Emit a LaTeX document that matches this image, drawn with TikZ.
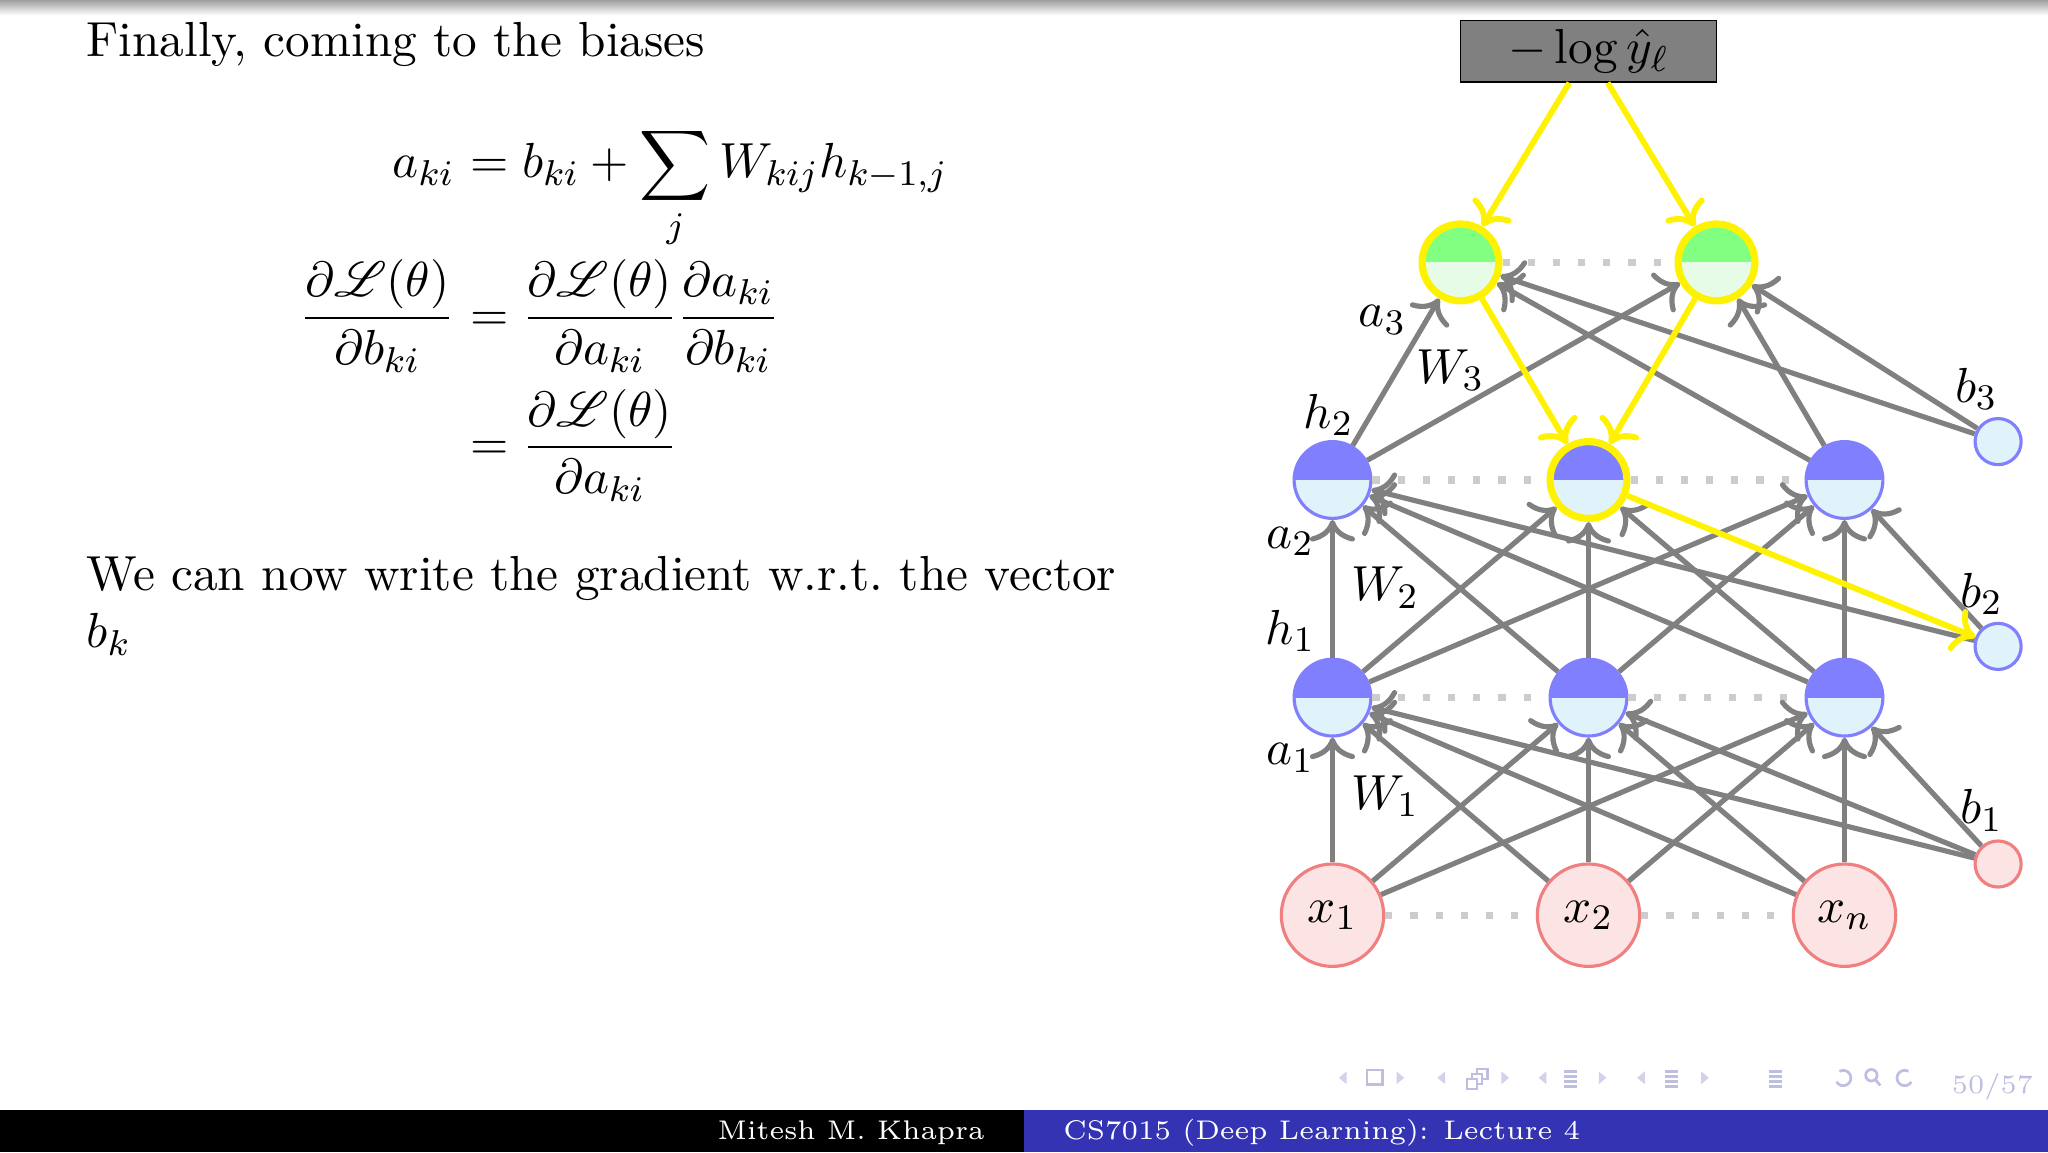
\documentclass[tikz,border=0pt,11pt]{standalone}
\usepackage{amsmath,amssymb}
\usepackage{mathrsfs}
\usepackage{xcolor}
\usetikzlibrary{positioning, arrows.meta}
\definecolor{hidcolor}{RGB}{128,128,255}
\definecolor{hidlight}{RGB}{224,242,250}
\definecolor{outcolor}{RGB}{128,255,128}
\definecolor{outlight}{RGB}{230,252,230}
\definecolor{infill}{RGB}{253,228,228}
\definecolor{inborder}{RGB}{240,128,128}
\definecolor{structblue}{RGB}{51,51,179}
\definecolor{navcolor}{RGB}{190,190,225}

\begin{document}
\begin{tikzpicture}[
    node distance=1.7cm and 2cm, on grid,
    neuron/.style={circle, draw=hidcolor, fill=hidlight, line width=0.7pt, minimum size=0.6cm, inner sep=0pt,
                   path picture={\fill[hidcolor] (path picture bounding box.west) rectangle (path picture bounding box.north east);}},
    activeneuron/.style={neuron, draw=yellow, line width=1.6pt},
    outneuron/.style={circle, draw=yellow, fill=outlight, line width=1.6pt, minimum size=0.6cm, inner sep=0pt,
                   path picture={\fill[outcolor] (path picture bounding box.west) rectangle (path picture bounding box.north east);}},
    innode/.style={circle, draw=inborder, fill=infill, line width=0.7pt, minimum size=0.8cm, inner sep=0pt},
    biasnode/.style={circle, draw=hidcolor, fill=hidlight, line width=0.7pt, minimum size=0.36cm, inner sep=0pt},
    lossbox/.style={rectangle, draw=black, fill=gray, line width=0.4pt, minimum width=2cm, minimum height=0.48cm, inner sep=1pt},
    wire/.style={-{Computer Modern Rightarrow[length=4.8pt, width=10pt]}, draw=gray, line width=1.15pt},
    backwire/.style={-{Computer Modern Rightarrow[length=4.8pt, width=10pt]}, draw=yellow, line width=1.3pt},
    dotline/.style={draw=gray!40, line width=1.6pt, loosely dotted},
    navtext/.style={text=navcolor, font=\fontsize{5.9}{7}\selectfont},
    foot/.style={text=white, font=\fontsize{6}{7}\selectfont, inner sep=0pt}
]
\useasboundingbox (0,0) rectangle (16,9);
\shade[top color=gray!75, bottom color=white] (0,9) rectangle (16,8.88);

% left column
\node[anchor=base west, inner sep=0pt] (title) at (0.67,8.56) {Finally, coming to the biases};
\node[anchor=base east, inner sep=0pt] (eqla) at (3.56,7.61) {$a_{ki}$};
\node[anchor=base west, inner sep=0pt] (eqra) at (3.56,7.61) {$\displaystyle {}= b_{ki} + \sum_j W_{kij}h_{k-1,j}$};
\node[anchor=base east, inner sep=0pt] (eqlb) at (3.56,6.42) {$\displaystyle \frac{\partial \mathscr{L}(\theta)}{\partial b_{ki}}$};
\node[anchor=base west, inner sep=0pt] (eqrb) at (3.56,6.42) {$\displaystyle {}= \frac{\partial \mathscr{L}(\theta)}{\partial a_{ki}}\frac{\partial a_{ki}}{\partial b_{ki}}$};
\node[anchor=base west, inner sep=0pt] (eqrc) at (3.56,5.41) {$\displaystyle {}= \frac{\partial \mathscr{L}(\theta)}{\partial a_{ki}}$};
\node[anchor=base west, inner sep=0pt] (sent) at (0.67,4.39) {We can now write the gradient w.r.t.\ the vector};
\node[anchor=base west, inner sep=0pt] (bvec) at (0.67,3.94) {$b_k$};

% network
\node[innode] (x1) at (10.41,1.85) {$x_1$};
\node[innode, right=of x1] (x2) {$x_2$};
\node[innode, right=of x2] (x3) {$x_n$};
\node[neuron, above=of x1] (h11) {};
\node[neuron, right=of h11] (h12) {};
\node[neuron, right=of h12] (h13) {};
\node[neuron, above=of h11] (h21) {};
\node[activeneuron, right=of h21] (h22) {};
\node[neuron, right=of h22] (h23) {};
\node[outneuron, above right=1.7cm and 1cm of h21] (o1) {};
\node[outneuron, right=of o1] (o2) {};
\node[lossbox, above right=1.65cm and 1cm of o1] (loss) {$-\log \hat{y}_\ell$};
\node[biasnode, draw=inborder, fill=infill, above right=0.4cm and 1.2cm of x3] (b1) {};
\node[biasnode, above right=0.4cm and 1.2cm of h13] (b2) {};
\node[biasnode, above right=0.3cm and 1.2cm of h23] (b3) {};

\draw[dotline] (x1) -- (x2) -- (x3);
\draw[dotline] (h11) -- (h12) -- (h13);
\draw[dotline] (h21) -- (h22) -- (h23);
\draw[dotline] (o1) -- (o2);

\foreach \i in {1,2,3}{
  \foreach \j in {1,2,3}{
    \draw[wire] (x\i) -- (h1\j);
    \draw[wire] (h1\i) -- (h2\j);
  }
  \draw[wire] (b1) -- (h1\i);
}
\foreach \j in {1,3}
  \draw[wire] (b2) -- (h2\j);
\foreach \i in {1,3}{
  \draw[wire] (h2\i) -- (o1);
  \draw[wire] (h2\i) -- (o2);
}
\draw[wire] (b3) -- (o1);
\draw[wire] (b3) -- (o2);

\draw[backwire] (loss) -- (o1);
\draw[backwire] (loss) -- (o2);
\draw[backwire] (o1) -- (h22);
\draw[backwire] (o2) -- (h22);
\draw[backwire] (h22) -- (b2);

\node (la3) at (10.80,6.50) {$a_3$};
\node (lw3) at (11.33,6.11) {$W_3$};
\node (lh2) at (10.38,5.76) {$h_2$};
\node (lb3) at (15.44,5.96) {$b_3$};
\node (la2) at (10.08,4.77) {$a_2$};
\node (lw2) at (10.82,4.41) {$W_2$};
\node (lh1) at (10.08,4.07) {$h_1$};
\node (lb2) at (15.48,4.36) {$b_2$};
\node (la1) at (10.08,3.08) {$a_1$};
\node (lw1) at (10.82,2.78) {$W_1$};
\node (lb1) at (15.48,2.67) {$b_1$};

% navigation symbols
\foreach \l/\r in {10.49/10.94, 11.26/11.76, 12.05/12.52, 12.82/13.32}{
  \fill[navcolor!70] (\l-0.03,0.58) -- (\l+0.03,0.63) -- (\l+0.03,0.53) -- cycle;
  \fill[navcolor!70] (\r+0.03,0.58) -- (\r-0.03,0.63) -- (\r-0.03,0.53) -- cycle;
}
\draw[navcolor, line width=0.6pt] (10.68,0.53) rectangle (10.80,0.64);
\draw[navcolor, line width=0.5pt, fill=white] (11.54,0.65) rectangle (11.62,0.57);
\draw[navcolor, line width=0.5pt, fill=white] (11.50,0.61) rectangle (11.58,0.53);
\draw[navcolor, line width=0.5pt, fill=white] (11.46,0.57) rectangle (11.54,0.49);
\foreach \c in {12.27, 13.06, 13.87}
  \foreach \yy in {0.51,0.55,0.59,0.63}
    \draw[navcolor, line width=0.6pt] (\c-0.05,\yy) -- (\c+0.05,\yy);
\draw[navcolor, line width=0.6pt] (14.37,0.63) arc (120:-150:0.06);
\draw[navcolor, line width=0.6pt] (14.62,0.60) circle (0.045) (14.65,0.565) -- (14.69,0.52);
\draw[navcolor, line width=0.6pt] (14.91,0.63) arc (60:330:0.06);
\node[navtext, anchor=base east, inner sep=0pt] (pagenum) at (15.89,0.46) {50/57};

% footline
\fill[black] (0,0) rectangle (8,0.33);
\fill[structblue] (8,0) rectangle (16,0.33);
\node[foot, anchor=base east] (author) at (7.70,0.10) {Mitesh M. Khapra};
\node[foot, anchor=base west] (course) at (8.30,0.10) {CS7015 (Deep Learning): Lecture 4};
\end{tikzpicture}
\end{document}
